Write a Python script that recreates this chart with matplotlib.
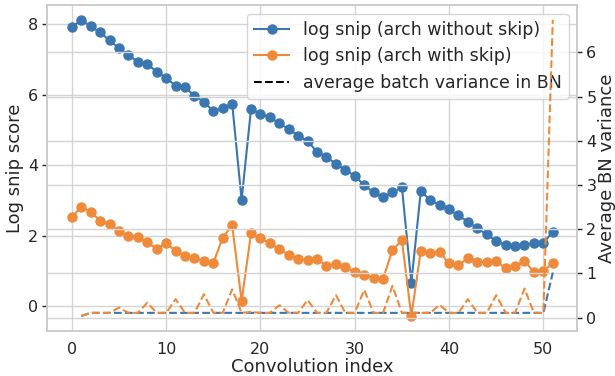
import numpy as np
import matplotlib
matplotlib.use("Agg")
import matplotlib.pyplot as plt

# log snip per convolution layer, network without skip connections
snip_no_skip = [7.93, 8.12, 7.95, 7.77, 7.55, 7.32, 7.14, 6.93, 6.88, 6.65,
                6.48, 6.26, 6.21, 5.98, 5.80, 5.54, 5.62, 5.75, 3.02, 5.60,
                5.47, 5.36, 5.19, 5.03, 4.84, 4.69, 4.38, 4.24, 4.04, 3.87,
                3.70, 3.44, 3.23, 3.09, 3.23, 3.38, 0.67, 3.26, 3.02, 2.87,
                2.75, 2.58, 2.40, 2.21, 2.04, 1.85, 1.74, 1.71, 1.74, 1.80,
                1.79, 2.12]

# log snip per convolution layer, network with skip connections
snip_skip = [2.53, 2.83, 2.68, 2.43, 2.33, 2.14, 1.99, 1.96, 1.82, 1.63,
             1.79, 1.57, 1.43, 1.37, 1.29, 1.23, 1.95, 2.30, 0.15, 2.07,
             1.93, 1.79, 1.63, 1.46, 1.35, 1.31, 1.35, 1.14, 1.20, 1.11,
             0.97, 0.90, 0.80, 0.78, 1.60, 1.87, -0.28, 1.58, 1.50, 1.54,
             1.22, 1.16, 1.37, 1.26, 1.26, 1.29, 1.08, 1.14, 1.29, 0.97,
             1.01, 1.22]

# average batch variance in BN (starts at layer 1)
bn_var_no_skip = [0.04] + [0.11] * 49 + [1.02]
bn_var_skip = [0.04, 0.11, 0.11, 0.11, 0.23, 0.11, 0.11, 0.34, 0.11, 0.11,
               0.42, 0.11, 0.11, 0.53, 0.11, 0.11, 0.64, 0.11, 0.13, 0.11,
               0.11, 0.28, 0.11, 0.11, 0.40, 0.11, 0.11, 0.51, 0.11, 0.11,
               0.63, 0.11, 0.11, 0.72, 0.11, 0.11, 0.11, 0.11, 0.29, 0.11,
               0.11, 0.42, 0.11, 0.11, 0.51, 0.11, 0.11, 0.66, 0.11, 0.11,
               6.73]

BLUE = "#3a76af"
ORANGE = "#ef8a3a"
TXT = "#262626"

plt.rcParams["font.family"] = "DejaVu Sans"
plt.rcParams["font.size"] = 11.5
plt.rcParams["text.color"] = TXT
plt.rcParams["axes.labelcolor"] = TXT
plt.rcParams["axes.labelsize"] = 13
plt.rcParams["xtick.color"] = TXT
plt.rcParams["ytick.color"] = TXT

fig, ax1 = plt.subplots(figsize=(6.15, 3.76), dpi=100)
fig.subplots_adjust(left=0.077, right=0.9387, top=0.9867, bottom=0.1197)
ax2 = ax1.twinx()

idx = np.arange(len(snip_no_skip))
idx_bn = np.arange(1, len(snip_no_skip))

l1, = ax1.plot(idx, snip_no_skip, "-o", color=BLUE, lw=1.5, ms=6.5,
               label="log snip (arch without skip)")
l2, = ax1.plot(idx, snip_skip, "-o", color=ORANGE, lw=1.5, ms=6.5,
               label="log snip (arch with skip)")
ax2.plot(idx_bn, bn_var_no_skip, "--", color=BLUE, lw=1.5)
ax2.plot(idx_bn, bn_var_skip, "--", color=ORANGE, lw=1.5, zorder=6)
l3, = ax2.plot([], [], "--", color="black", lw=1.5,
               label="average batch variance in BN")

ax1.set_xlabel("Convolution index", labelpad=1)
ax1.set_ylabel("Log snip score", labelpad=3)
ax2.set_ylabel("Average BN variance", labelpad=1)

for ax in (ax1, ax2):
    ax.grid(True, color="#d4d4d4", lw=1.0)
    ax.set_axisbelow(True)
    for s in ax.spines.values():
        s.set_color("#cccccc")
        s.set_linewidth(1.2)
    ax.tick_params(axis="x", length=0, pad=8)
    ax.tick_params(axis="y", length=3.5, width=1.0, color=TXT, pad=3)

ax1.set_xticks([0, 10, 20, 30, 40, 50])
ax1.set_yticks([0, 2, 4, 6, 8])
ax2.set_yticks([0, 1, 2, 3, 4, 5, 6])
ax1.set_xlim(-2.6, 53.6)
ax1.set_ylim(-0.70, 8.55)
ax2.set_ylim(-0.30, 7.07)

ax2.legend(handles=[l1, l2, l3], loc="upper right", fontsize=12.5,
           edgecolor="#cccccc", framealpha=0.8, borderaxespad=0.5)

fig.savefig("out.png", dpi=100)
